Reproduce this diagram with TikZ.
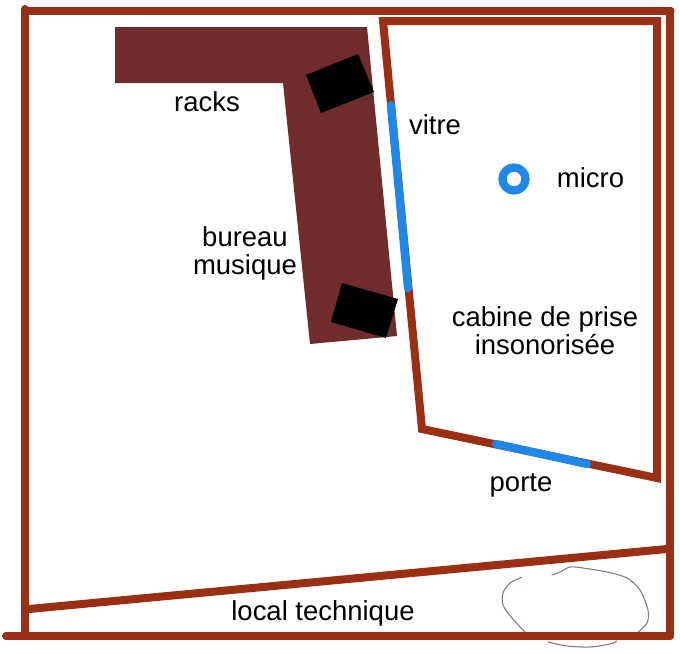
\documentclass[tikz,border=0pt]{standalone}
\usepackage{fontspec}
\setmainfont{Liberation Sans}
\definecolor{wall}{HTML}{9A2F14}
\definecolor{desk}{HTML}{702C2C}
\definecolor{glass}{HTML}{1E88E8}
\definecolor{sketch}{HTML}{8F7672}
\tikzset{
  wallline/.style={draw=wall,line width=6pt,line cap=round,line join=miter},
  thinwall/.style={draw=wall,line width=5.4pt,line cap=round,line join=miter},
  glassline/.style={draw=glass,line width=6.2pt,line cap=round},
  label/.style={font=\fontsize{20.6pt}{21pt}\selectfont,align=center,inner sep=0pt,text=black},
  sketchline/.style={draw=sketch,line width=0.8pt,line cap=round,line join=round}
}
\begin{document}
\begin{tikzpicture}[x=0.75pt,y=-0.75pt]
\useasboundingbox (0,0) rectangle (680,653);
\fill[white] (0,0) rectangle (680,653);
% sketched loop (under the walls)
\draw[sketchline] plot[smooth,tension=0.5] coordinates {(521.7,577.3) (510,583) (503,593) (503,605) (512,618) (525,632)};
\draw[sketchline] plot[smooth,tension=0.5] coordinates {(548,642) (567,646) (590,647) (610,644) (617,641)};
\draw[sketchline] plot[smooth,tension=0.5] coordinates {(637,633) (647,623) (648,610) (640,590) (627,578) (607,572) (583,568) (570,567) (560,572) (552,575)};
% desk
\fill[desk] (115,27) -- (367,27) -- (397,336) -- (310,344) -- (283,83) -- (115,83) -- cycle;
\fill[black] (306,75) -- (358,54) -- (374,92) -- (321,113) -- cycle;
\fill[black] (342,283) -- (398,299) -- (386,338) -- (331,322) -- cycle;
% outer walls
\draw[thinwall] (25,11) -- (671,11);
\draw[wallline] (25,9) -- (25,636);
\draw[wallline] (670,11) -- (670,636);
\draw[wallline] (6,636) -- (670,636);
\draw[wallline] (29,609) -- (667,549);
% cabin
\draw[wallline,line cap=butt] (657,478) -- (657,21) -- (383,21) -- (422,429) -- cycle;
% glass
\draw[glassline] (391,105) -- (408,288);
\draw[glassline] (496,444) -- (587,464);
\draw[glass,line width=6.2pt] (514,179) circle (11.5);
% labels
\node[label] (racks) at (207,102) {racks};
\node[label] (vitre) at (435,125) {vitre};
\node[label] (micro) at (590.5,178) {micro};
\node[label] (bureau) at (245,253) {bureau\\musique};
\node[label] (cabine) at (545,331) {cabine de prise\\insonorisée};
\node[label] (porte) at (521,485) {porte};
\node[label] (local) at (323,613) {local technique};
\end{tikzpicture}
\end{document}
